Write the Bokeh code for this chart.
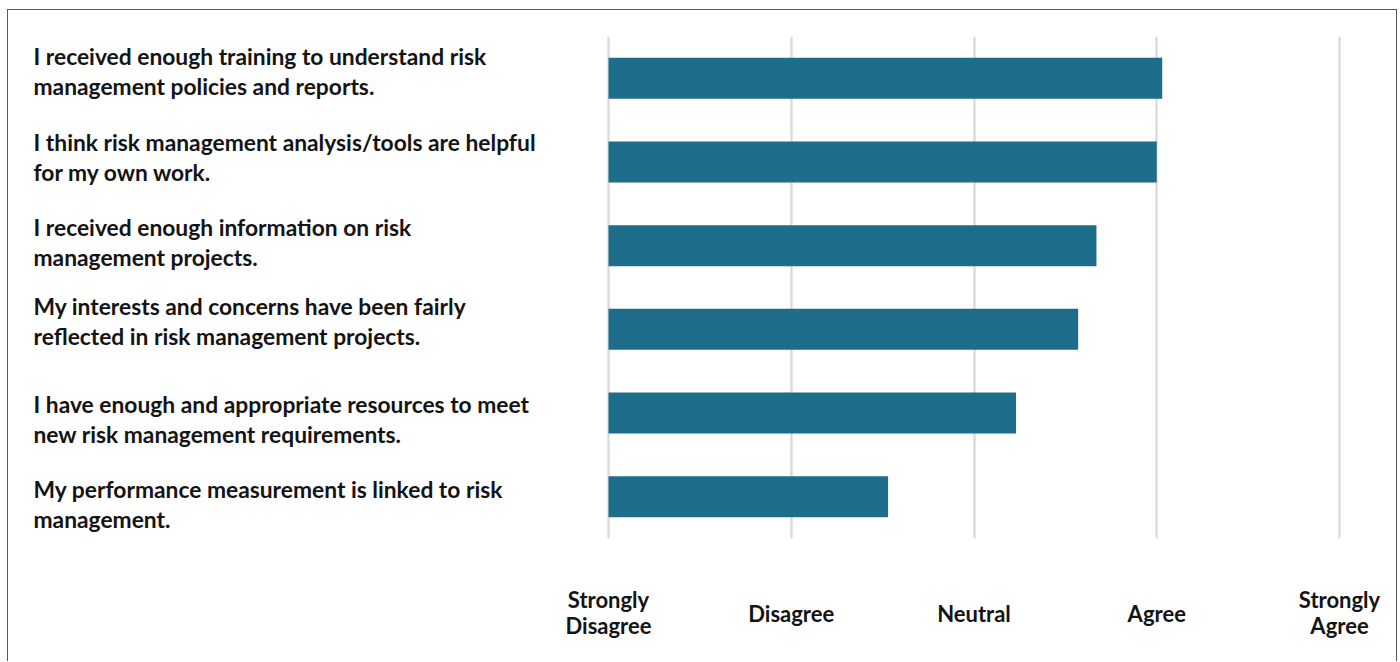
from bokeh.plotting import figure
from bokeh.models import Range1d, FactorRange, LinearAxis, FixedTicker, Grid, ColumnDataSource
from bokeh.core.properties import value
from bokeh.embed import file_html
from bokeh.resources import INLINE

# ---- data -------------------------------------------------------------
statements = [
    "I received enough training to understand risk\nmanagement policies and reports.",
    "I think risk management analysis/tools are helpful\nfor my own work.",
    "I received enough information on risk\nmanagement projects.",
    "My interests and concerns have been fairly\nreflected in risk management projects.",
    "I have enough and appropriate resources to meet\nnew risk management requirements.",
    "My performance measurement is linked to risk\nmanagement.",
]
scores = [4.03, 4.00, 3.67, 3.57, 3.23, 2.53]

scale_values = [1, 2, 3, 4, 5]
scale_labels = ["Strongly\nDisagree", "Disagree", "Neutral", "Agree", "Strongly\nAgree"]

# ---- layout / style ---------------------------------------------------
W, H = 1390, 652
FRAME_TOP, FRAME_BOTTOM = 26, 528
PX_PER_UNIT = 182.75
ORIGIN_PX = 600          # canvas x of the first scale point
LABEL_PX = 25            # canvas x of the statement labels
LABEL_NUDGE_PX = [7, 5, 4, 8, -6, -7]   # text-box placement of the statement labels (screen px, up = +)
BAR_COLOR = "#1D6E8A"
TEXT_COLOR = "#141414"
GRID_COLOR = "#D9D9D9"
BORDER_COLOR = "#595959"
FONT = "Lato"

x_start = scale_values[0] - ORIGIN_PX / PX_PER_UNIT
x_end = scale_values[0] + (W - ORIGIN_PX) / PX_PER_UNIT
label_x = scale_values[0] - (ORIGIN_PX - LABEL_PX) / PX_PER_UNIT

src = ColumnDataSource(dict(stmt=statements, score=scores,
                            nudge=[-n for n in LABEL_NUDGE_PX]))

p = figure(
    width=W, height=H,
    x_range=Range1d(x_start, x_end),
    y_range=FactorRange(factors=statements[::-1], range_padding=0),
    x_axis_location=None, y_axis_location=None,
    toolbar_location=None, output_backend="svg",
    min_border_left=0, min_border_right=0,
    min_border_top=FRAME_TOP, min_border_bottom=H - FRAME_BOTTOM,
    outline_line_color=None,
)
p.grid.visible = False
p.styles = {
    "margin": "9px 0 0 7px",
    "border-left": f"1px solid {BORDER_COLOR}",
    "border-top": f"1px solid {BORDER_COLOR}",
    "border-right": f"1px solid {BORDER_COLOR}",
}

grid = Grid(dimension=0, ticker=FixedTicker(ticks=scale_values, minor_ticks=[]),
            grid_line_color=GRID_COLOR, grid_line_width=2.3)
p.add_layout(grid, "center")

p.hbar(y="stmt", left=scale_values[0], right="score", height=0.49, source=src,
       fill_color=BAR_COLOR, line_color=None)

p.text(x=label_x, y="stmt", text="stmt", source=src, y_offset="nudge",
       text_align="left", text_baseline="middle",
       text_font=value(FONT), text_font_style="bold", text_font_size="22.8px",
       text_line_height=1.08, text_color=TEXT_COLOR)


def make_axis(ticks, standoff):
    overrides = {v: l for v, l in zip(scale_values, scale_labels) if v in ticks}
    ax = LinearAxis(
        ticker=FixedTicker(ticks=ticks, minor_ticks=[]),
        major_label_overrides=overrides,
        axis_line_color=None, major_tick_line_color=None, minor_tick_line_color=None,
        major_tick_in=0, major_tick_out=0,
        major_label_standoff=standoff,
        major_label_text_font=FONT, major_label_text_font_style="bold",
        major_label_text_font_size="22px", major_label_text_color=TEXT_COLOR,
        major_label_text_line_height=0.985,
    )
    return ax


two_line = [v for v, l in zip(scale_values, scale_labels) if "\n" in l]
one_line = [v for v, l in zip(scale_values, scale_labels) if "\n" not in l]
p.add_layout(make_axis(two_line, 47), "below")
p.add_layout(make_axis(one_line, -43), "below")

open("out.html", "w").write(file_html(p, INLINE))
